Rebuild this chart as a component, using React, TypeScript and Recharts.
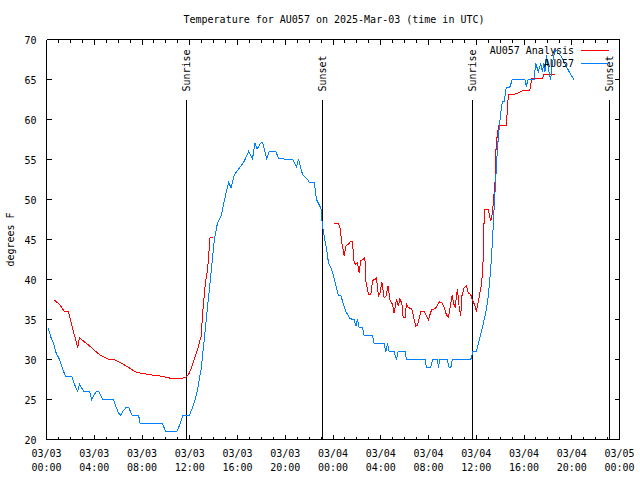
import React from 'react';
import { LineChart, Line, XAxis, YAxis, ReferenceLine, Legend } from 'recharts';

const FONT = '"DejaVu Sans Mono", "Liberation Mono", monospace';

// Observations (AU057)
const obsHours = [
  0.11, 0.39, 0.59, 0.81, 1.09, 1.31, 1.59, 2.12, 2.34, 2.62, 2.76, 3.12, 3.6, 3.79, 4.16, 4.38, 4.71, 5.61,
  5.97, 6.19, 6.38, 6.67, 6.89, 7.17, 7.72, 7.84, 9.73, 9.96, 10.9, 11.13, 11.41, 11.97, 12.38, 12.66, 12.95,
  13.22, 13.5, 13.78, 14.06, 14.33, 14.62, 15.04, 15.26, 15.46, 15.73, 16.15, 16.57, 16.93, 17.26, 17.46,
  17.63, 17.97, 18.1, 18.44, 18.66, 19.22, 19.44, 20.61, 20.95, 21.11, 21.45, 21.87, 22.01, 22.43, 22.62,
  22.99, 23.12, 23.26, 23.46, 23.62, 23.82, 24.02, 24.24, 24.46, 24.66, 24.85, 25.08, 25.41, 25.77, 25.92,
  26.05, 26.19, 26.47, 26.61, 27.31, 27.45, 28.28, 28.43, 28.56, 28.7, 29.12, 29.31, 29.46, 30.04, 30.15,
  31.72, 31.82, 32.19, 32.33, 32.75, 32.83, 32.95, 33.58, 33.72, 33.87, 34.0, 35.54, 35.73, 36.01, 36.23,
  36.51, 36.79, 37.01, 37.21, 37.35, 37.49, 37.63, 37.77, 37.91, 38.05, 38.18, 38.33, 38.52, 38.8, 39.02,
  40.08, 40.19, 40.36, 40.84, 40.98, 41.2, 41.4, 41.53, 41.67, 41.76, 41.87, 42.09, 42.23, 42.37, 42.51,
  42.65, 42.87, 43.07, 43.49, 43.77, 44.18,
];
const obsTemps = [
  34.0, 32.7, 32.1, 30.8, 30.0, 29.0, 27.9, 27.9, 26.9, 26.0, 26.9, 26.0, 26.0, 25.0, 26.0, 26.0, 25.0, 25.0,
  23.5, 23.0, 23.5, 24.0, 24.0, 23.0, 23.0, 22.0, 22.0, 21.0, 21.0, 21.7, 23.0, 23.0, 24.6, 26.3, 28.8,
  32.5, 36.7, 40.8, 45.0, 47.1, 47.9, 50.8, 52.1, 51.5, 53.1, 53.9, 54.8, 56.0, 55.1, 57.1,
  56.3, 57.1, 57.1, 55.1, 56.0, 56.0, 55.1, 55.0, 54.1, 55.1, 53.1, 52.5, 52.1, 52.1, 50.0,
  48.9, 46.7, 45.4, 43.8, 42.1, 41.5, 40.6, 39.2, 38.0, 38.0, 37.0, 36.0, 35.1, 35.0, 34.2,
  35.0, 34.0, 34.0, 33.0, 33.0, 32.0, 32.0, 31.0, 32.0, 31.0, 31.0, 30.0, 31.0, 31.0, 30.0,
  30.0, 29.0, 29.0, 30.0, 30.0, 29.0, 30.0, 30.0, 29.0, 29.0, 30.0, 30.0, 31.0, 31.0, 32.3,
  34.0, 35.8, 37.9, 41.3, 44.6, 48.8, 52.5, 56.3, 58.8, 60.8, 62.2, 62.2, 64.0, 64.0, 65.0,
  65.0, 64.2, 65.0, 65.0, 67.0, 66.0, 67.0, 66.0, 67.0, 66.0, 68.0, 66.0, 65.0, 67.0, 68.0,
  68.8, 68.3, 68.0, 66.8, 66.0, 65.0,
];

// Model analysis (AU057 Analysis); null marks the gap between runs
const anaHours = [
  0.59, 1.09, 1.51, 1.84, 2.2, 2.62, 2.76, 3.6, 4.44, 5.27, 5.69, 6.67, 7.51, 8.62, 9.71, 10.54, 11.27, 11.69,
  11.97, 12.38, 12.66, 12.95, 13.08, 13.31, 13.5, 13.7, 13.92, 18.0,
  24.1, 24.46, 24.58, 24.74, 24.94, 25.08, 25.3, 25.5, 25.63, 25.77, 25.92, 26.05, 26.19, 26.33, 26.55, 26.67,
  26.75, 26.97, 27.17, 27.31, 27.53, 27.64, 27.81, 27.95, 28.09, 28.28, 28.43, 28.62, 28.76, 28.98, 29.12,
  29.31, 29.48, 29.6, 29.77, 29.87, 30.04, 30.15, 30.32, 30.6, 30.8, 30.94, 31.07, 31.36, 31.63, 31.99, 32.28,
  32.47, 32.66, 32.89, 33.11, 33.31, 33.5, 33.67, 33.87, 34.0, 34.08, 34.23, 34.42, 34.56, 34.7, 34.79, 34.98,
  35.17, 35.34, 35.54, 35.67, 35.9, 36.01, 36.23, 36.46, 36.57, 36.68, 37.01, 37.21, 37.35, 37.43, 37.57,
  37.63, 37.77, 37.91, 38.52, 38.69, 39.31, 39.92, 40.48, 40.64, 41.53, 41.67, 42.59,
];
const anaTemps = [
  37.5, 36.9, 36.0, 36.0, 33.8, 31.5, 32.7, 31.7, 30.6, 30.0, 30.0, 29.2, 28.4, 28.1, 27.9, 27.6, 27.6, 27.8,
  28.3, 30.0, 31.3, 32.9, 35.8, 39.6, 41.3, 45.2, 45.3, null,
  47.0, 47.0, 46.5, 44.6, 42.9, 44.2, 44.4, 44.8, 44.7, 42.1, 41.9, 42.1, 40.8, 42.4, 42.5, 42.8,
  39.8, 38.1, 38.1, 39.9, 40.0, 40.2, 37.9, 38.3, 39.7, 37.7, 37.9, 39.2, 37.5, 36.9, 35.8,
  37.5, 36.7, 37.6, 37.0, 35.3, 35.3, 37.0, 36.5, 36.3, 35.0, 34.2, 34.3, 36.0, 36.0, 35.0, 36.3,
  36.3, 36.5, 37.2, 37.1, 36.5, 35.6, 35.3, 37.1, 38.1, 37.1, 36.5, 38.8, 36.7, 35.4, 37.9, 39.0,
  39.2, 38.3, 38.1, 37.5, 36.7, 36.0, 37.7, 39.6, 42.3, 48.7, 48.7, 47.3, 48.3, 49.6, 52.1,
  55.8, 58.3, 59.3, 59.3, 63.1, 63.2, 63.6, 63.6, 65.1, 65.1, 65.6, 65.6,
];

const xTickHours = [0, 4, 8, 12, 16, 20, 24, 28, 32, 36, 40, 44, 48];
const xTickDates = ['03/03', '03/03', '03/03', '03/03', '03/03', '03/03', '03/04', '03/04', '03/04', '03/04', '03/04', '03/04', '03/05'];
const xTickTimes = ['00:00', '04:00', '08:00', '12:00', '16:00', '20:00', '00:00', '04:00', '08:00', '12:00', '16:00', '20:00', '00:00'];
const xMinorHours = Array.from({ length: 49 }, (_, i) => i);
const yTicks = [20, 25, 30, 35, 40, 45, 50, 55, 60, 65, 70];

const eventHours = [11.69, 23.15, 35.7, 47.17];
const eventLabels = ['Sunrise', 'Sunset', 'Sunrise', 'Sunset'];

const seriesNames = ['AU057 Analysis', 'AU057'];
const seriesColors = ['#ff0000', '#0080ff'];

const title = 'Temperature for AU057 on 2025-Mar-03 (time in UTC)';
const yLabel = 'degrees F';

const obsData = obsHours.map((h, i) => ({ h, t: obsTemps[i] }));
const anaData = anaHours.map((h, i) => ({ h, t: anaTemps[i] }));

const BottomTick = (props: any) => {
  const { x, y, payload } = props;
  const idx = xTickHours.indexOf(payload.value);
  const major = idx >= 0;
  return (
    <g>
      <line x1={x} x2={x} y1={y} y2={y - (major ? 5 : 3)} stroke="#000" strokeWidth={1} shapeRendering="crispEdges" />
      {major && (
        <text x={x} y={y} textAnchor="middle" fontFamily={FONT} fontSize={10} fill="#000">
          <tspan x={x} dy={17}>{xTickDates[idx]}</tspan>
          <tspan x={x} dy={14}>{xTickTimes[idx]}</tspan>
        </text>
      )}
    </g>
  );
};

const TopTick = (props: any) => {
  const { x, y, payload } = props;
  const major = xTickHours.indexOf(payload.value) >= 0;
  return <line x1={x} x2={x} y1={y} y2={y + (major ? 5 : 3)} stroke="#000" strokeWidth={1} shapeRendering="crispEdges" />;
};

const LeftTick = (props: any) => {
  const { x, y, payload } = props;
  return (
    <g>
      <line x1={x} x2={x + 5} y1={y} y2={y} stroke="#000" strokeWidth={1} shapeRendering="crispEdges" />
      <text x={x - 10} y={y} dy={4} textAnchor="end" fontFamily={FONT} fontSize={10} fill="#000">
        {payload.value}
      </text>
    </g>
  );
};

const RightTick = (props: any) => {
  const { x, y } = props;
  return <line x1={x} x2={x - 5} y1={y} y2={y} stroke="#000" strokeWidth={1} shapeRendering="crispEdges" />;
};

const makeEventShape = (label: string) => (props: any) => {
  const { x1, y1, y2 } = props;
  const top = Math.min(y1, y2);
  const bottom = Math.max(y1, y2);
  const h = bottom - top;
  const lineTop = top + 0.15 * h;
  const textBase = top + 0.13 * h;
  return (
    <g>
      <line x1={x1} x2={x1} y1={lineTop} y2={bottom} stroke="#000" strokeWidth={1} shapeRendering="crispEdges" />
      <text
        x={x1}
        y={textBase}
        transform={`rotate(-90 ${x1} ${textBase})`}
        textAnchor="start"
        dy={3.5}
        fontFamily={FONT}
        fontSize={10}
        fill="#000"
      >
        {label}
      </text>
    </g>
  );
};

const renderLegend = (props: any) => {
  const payload = [...(props.payload || [])].sort(
    (a: any, b: any) => seriesNames.indexOf(a.value) - seriesNames.indexOf(b.value)
  );
  return (
    <div style={{ fontFamily: FONT, fontSize: 10, color: '#000' }}>
      {payload.map((e: any) => (
        <div
          key={e.value}
          style={{ display: 'flex', justifyContent: 'flex-end', alignItems: 'center', height: 13, lineHeight: '13px' }}
        >
          <span>{e.value}</span>
          <svg width={37} height={13} style={{ display: 'block' }}>
            <line x1={6.5} x2={35} y1={6.5} y2={6.5} stroke={e.color} strokeWidth={1} shapeRendering="crispEdges" />
          </svg>
        </div>
      ))}
    </div>
  );
};

export default function App() {
  return (
    <div style={{ position: 'absolute', left: 0, top: 0, width: 640, height: 480, background: '#fff' }}>
      <div
        style={{
          position: 'absolute',
          left: 0,
          top: 14,
          width: 668,
          height: 12,
          lineHeight: '12px',
          textAlign: 'center',
          fontFamily: FONT,
          fontSize: 10,
          color: '#000',
          zIndex: 2,
        }}
      >
        {title}
      </div>
      <LineChart width={640} height={480} margin={{ top: 0, right: 0, bottom: 0, left: 0 }}>
        <XAxis
          xAxisId={0}
          dataKey="h"
          type="number"
          domain={[0, 48]}
          ticks={xMinorHours}
          interval={0}
          tickSize={0}
          tickMargin={0}
          tickLine={false}
          axisLine={{ stroke: '#000', shapeRendering: 'crispEdges' }}
          tick={<BottomTick />}
          height={40.5}
          allowDataOverflow
        />
        <XAxis
          xAxisId="top"
          orientation="top"
          dataKey="h"
          type="number"
          domain={[0, 48]}
          ticks={xMinorHours}
          interval={0}
          tickSize={0}
          tickMargin={0}
          tickLine={false}
          axisLine={{ stroke: '#000', shapeRendering: 'crispEdges' }}
          tick={<TopTick />}
          height={39.5}
          allowDataOverflow
        />
        <YAxis
          yAxisId={0}
          type="number"
          domain={[20, 70]}
          ticks={yTicks}
          interval={0}
          tickSize={0}
          tickMargin={0}
          tickLine={false}
          axisLine={{ stroke: '#000', shapeRendering: 'crispEdges' }}
          tick={<LeftTick />}
          width={46.5}
          allowDataOverflow
          label={(p: any) => {
            const vb = p.viewBox || { x: 0, y: 39.5, width: 46.5, height: 400 };
            const cx = 10;
            const cy = vb.y + vb.height / 2;
            return (
              <text
                x={cx}
                y={cy}
                transform={`rotate(-90 ${cx} ${cy})`}
                textAnchor="middle"
                dy={3.5}
                fontFamily={FONT}
                fontSize={10}
                fill="#000"
              >
                {yLabel}
              </text>
            );
          }}
        />
        <YAxis
          yAxisId="right"
          orientation="right"
          type="number"
          domain={[20, 70]}
          ticks={yTicks}
          interval={0}
          tickSize={0}
          tickMargin={0}
          tickLine={false}
          axisLine={{ stroke: '#000', shapeRendering: 'crispEdges' }}
          tick={<RightTick />}
          width={20.5}
          allowDataOverflow
        />
        {eventHours.map((h, i) => (
          <ReferenceLine
            key={`ev${i}`}
            x={h}
            xAxisId={0}
            yAxisId={0}
            stroke="#000"
            shape={makeEventShape(eventLabels[i])}
          />
        ))}
        <Line
          data={anaData}
          dataKey="t"
          name={seriesNames[0]}
          xAxisId={0}
          yAxisId={0}
          type="linear"
          stroke={seriesColors[0]}
          strokeWidth={1}
          shapeRendering="crispEdges"
          dot={false}
          activeDot={false}
          connectNulls={false}
          isAnimationActive={false}
        />
        <Line
          data={obsData}
          dataKey="t"
          name={seriesNames[1]}
          xAxisId={0}
          yAxisId={0}
          type="linear"
          stroke={seriesColors[1]}
          strokeWidth={1}
          shapeRendering="crispEdges"
          dot={false}
          activeDot={false}
          isAnimationActive={false}
        />
        <Legend
          layout="vertical"
          align="center"
          verticalAlign="middle"
          content={renderLegend}
          wrapperStyle={{ top: 43.5, left: 461, width: 150 }}
        />
      </LineChart>
    </div>
  );
}
